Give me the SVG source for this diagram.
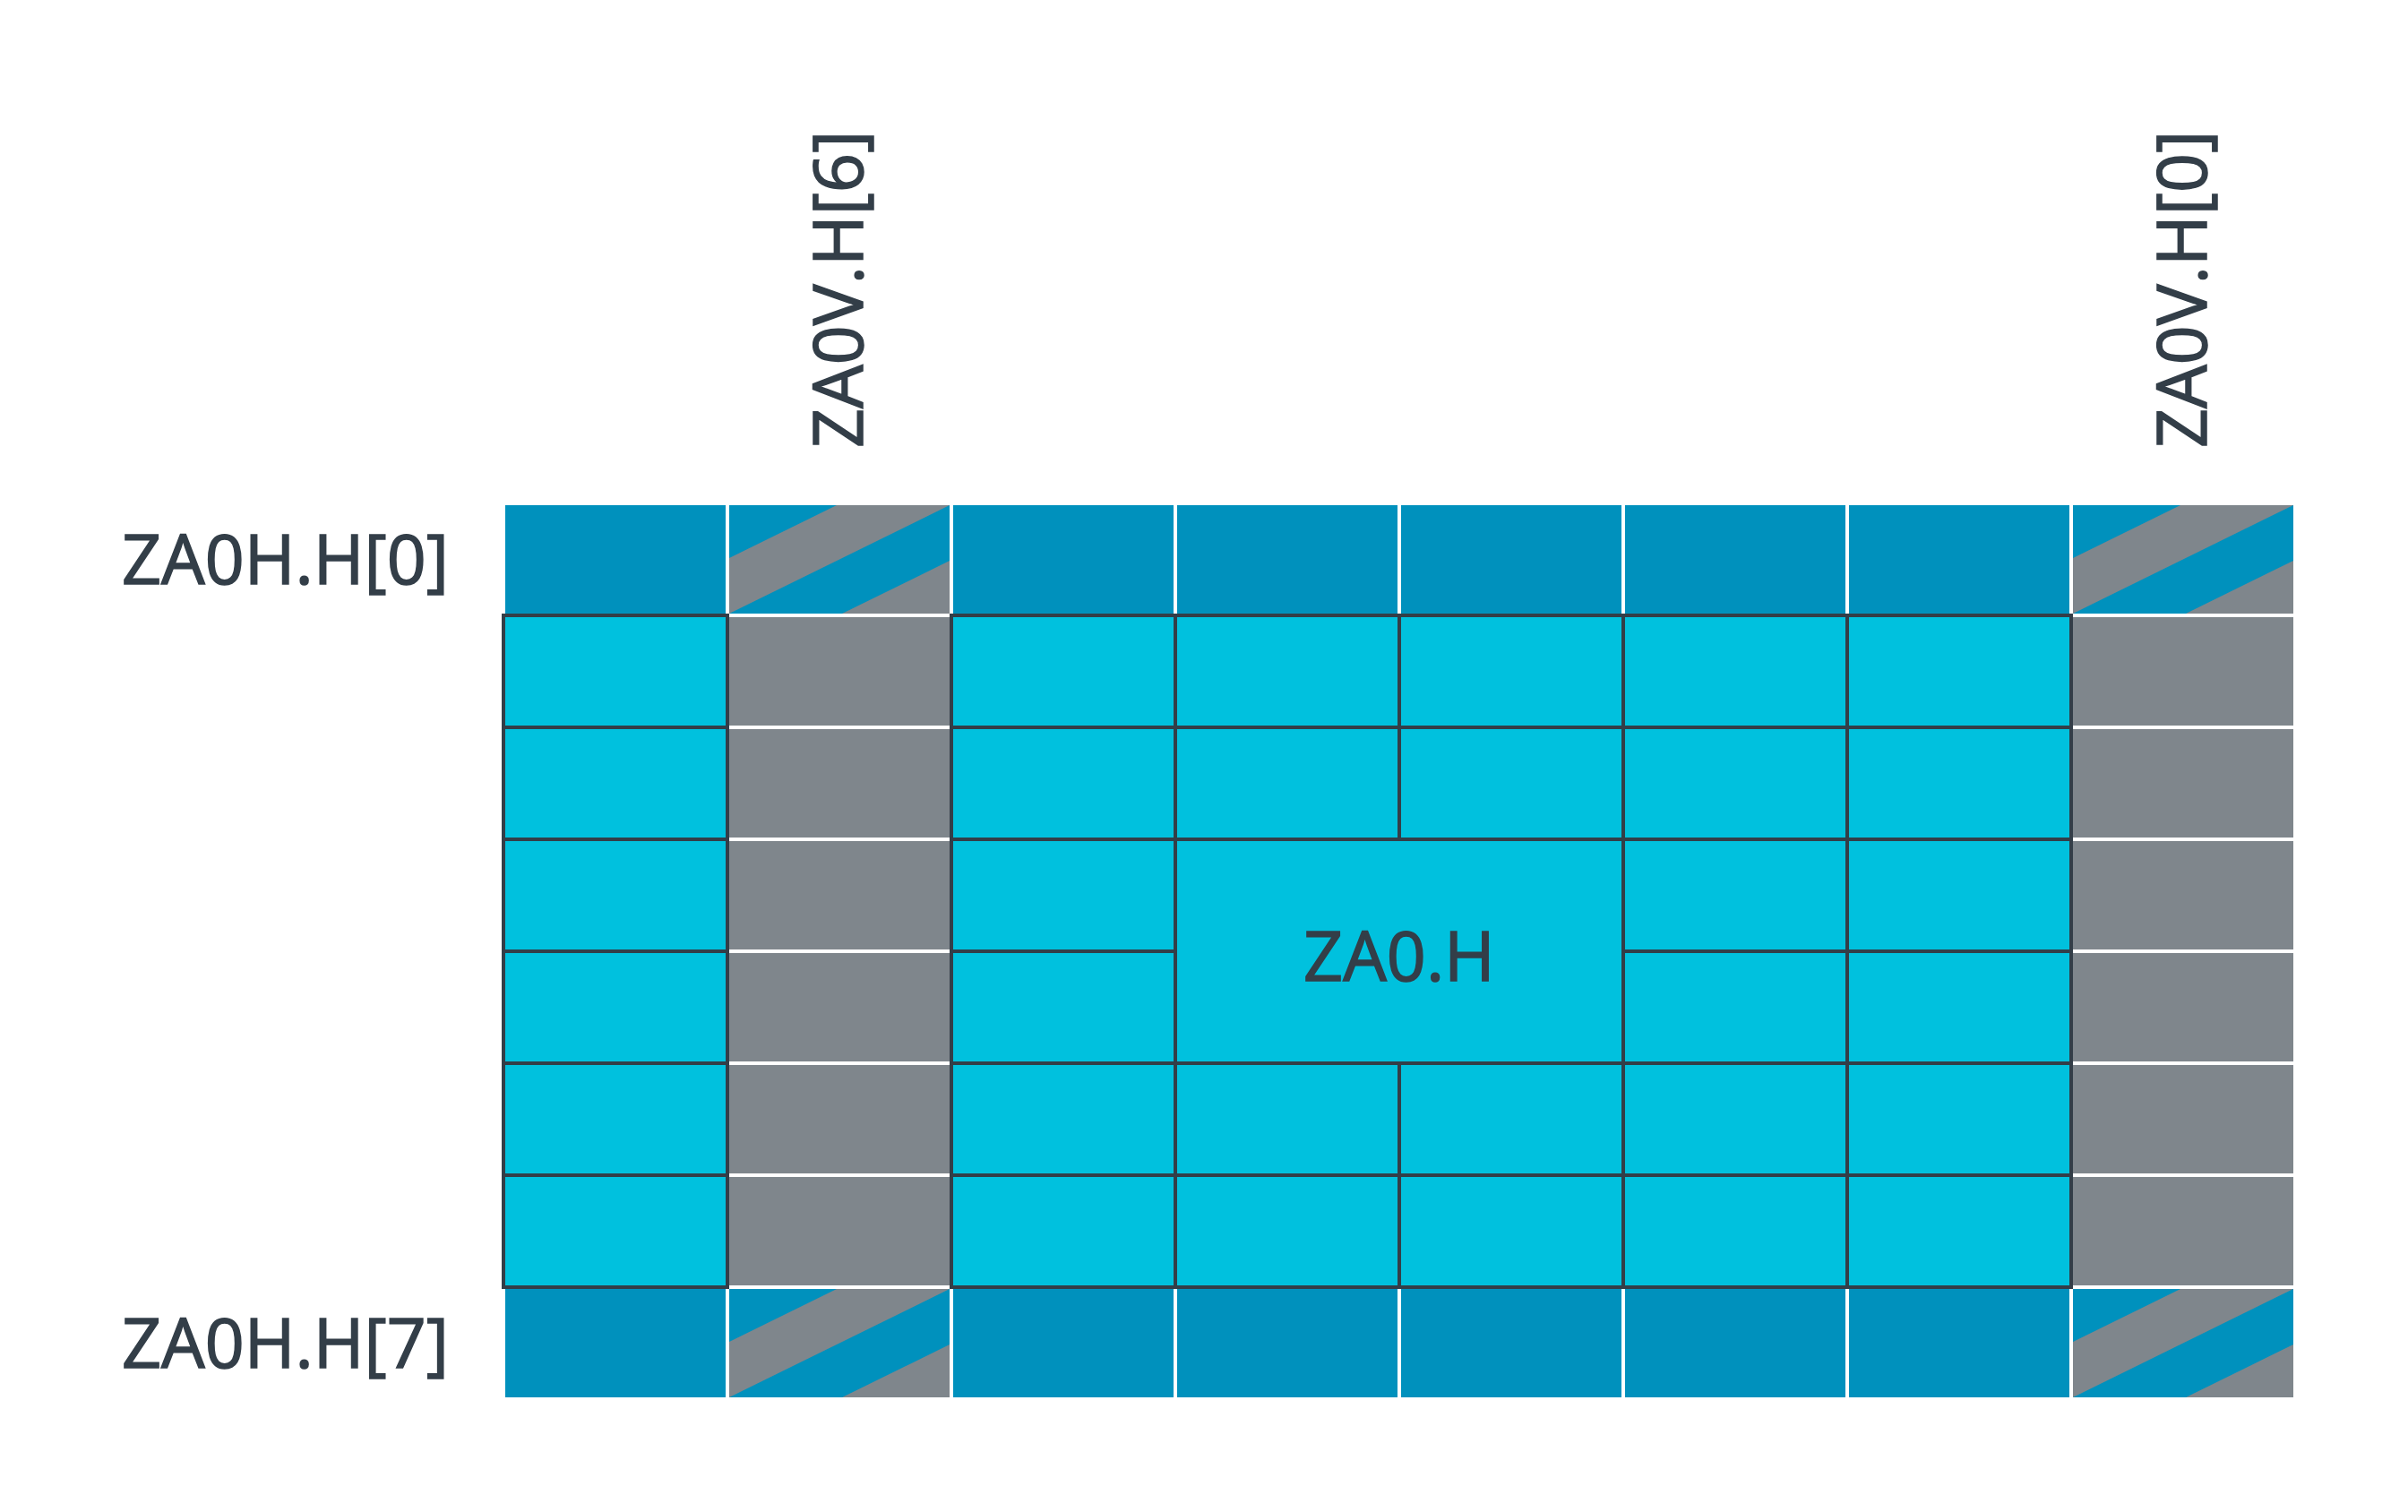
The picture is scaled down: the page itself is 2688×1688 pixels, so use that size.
<svg xmlns="http://www.w3.org/2000/svg" xmlns:xlink="http://www.w3.org/1999/xlink" width="2688" height="1688" viewBox="0 0 2688 1688">
<style>
.blue{fill:#0091BD}
.gray{fill:#7F868C}
.cyan{fill:#00C1DE;stroke:#333E48;stroke-width:4}
.lbl{font-family:"Open Sans","Noto Sans",sans-serif;font-size:77px;fill:#333E48;stroke:#333E48;stroke-width:1.5}
</style>
<defs>
<g id="striped">
<rect width="246" height="121" class="gray"/>
<polygon points="0,0 120,0 0,59" class="blue"/>
<polygon points="0,121 246,0 246,62 126,121" class="blue"/>
</g>
<rect id="bblk" width="246" height="121" class="blue"/>
<rect id="gblk" width="246" height="121" class="gray"/>
<rect id="ccell" width="250" height="125" class="cyan"/>
</defs>
<rect width="2688" height="1688" fill="#FFFFFF"/>
<g id="row0">
<use href="#bblk" x="564" y="564"/>
<use href="#striped" x="814" y="564"/>
<use href="#bblk" x="1064" y="564"/>
<use href="#bblk" x="1314" y="564"/>
<use href="#bblk" x="1564" y="564"/>
<use href="#bblk" x="1814" y="564"/>
<use href="#bblk" x="2064" y="564"/>
<use href="#striped" x="2314" y="564"/>
</g>
<g id="row7">
<use href="#bblk" x="564" y="1439"/>
<use href="#striped" x="814" y="1439"/>
<use href="#bblk" x="1064" y="1439"/>
<use href="#bblk" x="1314" y="1439"/>
<use href="#bblk" x="1564" y="1439"/>
<use href="#bblk" x="1814" y="1439"/>
<use href="#bblk" x="2064" y="1439"/>
<use href="#striped" x="2314" y="1439"/>
</g>
<g id="col1-gray">
<use href="#gblk" x="814" y="689"/>
<use href="#gblk" x="814" y="814"/>
<use href="#gblk" x="814" y="939"/>
<use href="#gblk" x="814" y="1064"/>
<use href="#gblk" x="814" y="1189"/>
<use href="#gblk" x="814" y="1314"/>
</g>
<g id="col7-gray">
<use href="#gblk" x="2314" y="689"/>
<use href="#gblk" x="2314" y="814"/>
<use href="#gblk" x="2314" y="939"/>
<use href="#gblk" x="2314" y="1064"/>
<use href="#gblk" x="2314" y="1189"/>
<use href="#gblk" x="2314" y="1314"/>
</g>
<g id="col0">
<use href="#ccell" x="562" y="687"/>
<use href="#ccell" x="562" y="812"/>
<use href="#ccell" x="562" y="937"/>
<use href="#ccell" x="562" y="1062"/>
<use href="#ccell" x="562" y="1187"/>
<use href="#ccell" x="562" y="1312"/>
</g>
<g id="col2">
<use href="#ccell" x="1062" y="687"/>
<use href="#ccell" x="1062" y="812"/>
<use href="#ccell" x="1062" y="937"/>
<use href="#ccell" x="1062" y="1062"/>
<use href="#ccell" x="1062" y="1187"/>
<use href="#ccell" x="1062" y="1312"/>
</g>
<g id="col3">
<use href="#ccell" x="1312" y="687"/>
<use href="#ccell" x="1312" y="812"/>
<use href="#ccell" x="1312" y="1187"/>
<use href="#ccell" x="1312" y="1312"/>
</g>
<g id="col4">
<use href="#ccell" x="1562" y="687"/>
<use href="#ccell" x="1562" y="812"/>
<use href="#ccell" x="1562" y="1187"/>
<use href="#ccell" x="1562" y="1312"/>
</g>
<g id="col5">
<use href="#ccell" x="1812" y="687"/>
<use href="#ccell" x="1812" y="812"/>
<use href="#ccell" x="1812" y="937"/>
<use href="#ccell" x="1812" y="1062"/>
<use href="#ccell" x="1812" y="1187"/>
<use href="#ccell" x="1812" y="1312"/>
</g>
<g id="col6">
<use href="#ccell" x="2062" y="687"/>
<use href="#ccell" x="2062" y="812"/>
<use href="#ccell" x="2062" y="937"/>
<use href="#ccell" x="2062" y="1062"/>
<use href="#ccell" x="2062" y="1187"/>
<use href="#ccell" x="2062" y="1312"/>
</g>
<g id="za0h">
<rect x="1312" y="937" width="500" height="250" class="cyan"/>
<text x="1562" y="1095" class="lbl" text-anchor="middle">ZA0.H</text>
</g>
<g id="labels">
<text x="501" y="652" class="lbl" text-anchor="end">ZA0H.H[0]</text>
<text x="501" y="1527" class="lbl" text-anchor="end">ZA0H.H[7]</text>
<text transform="translate(963,500) rotate(-90)" class="lbl">ZA0V.H[6]</text>
<text transform="translate(2463,500) rotate(-90)" class="lbl">ZA0V.H[0]</text>
</g>
</svg>
